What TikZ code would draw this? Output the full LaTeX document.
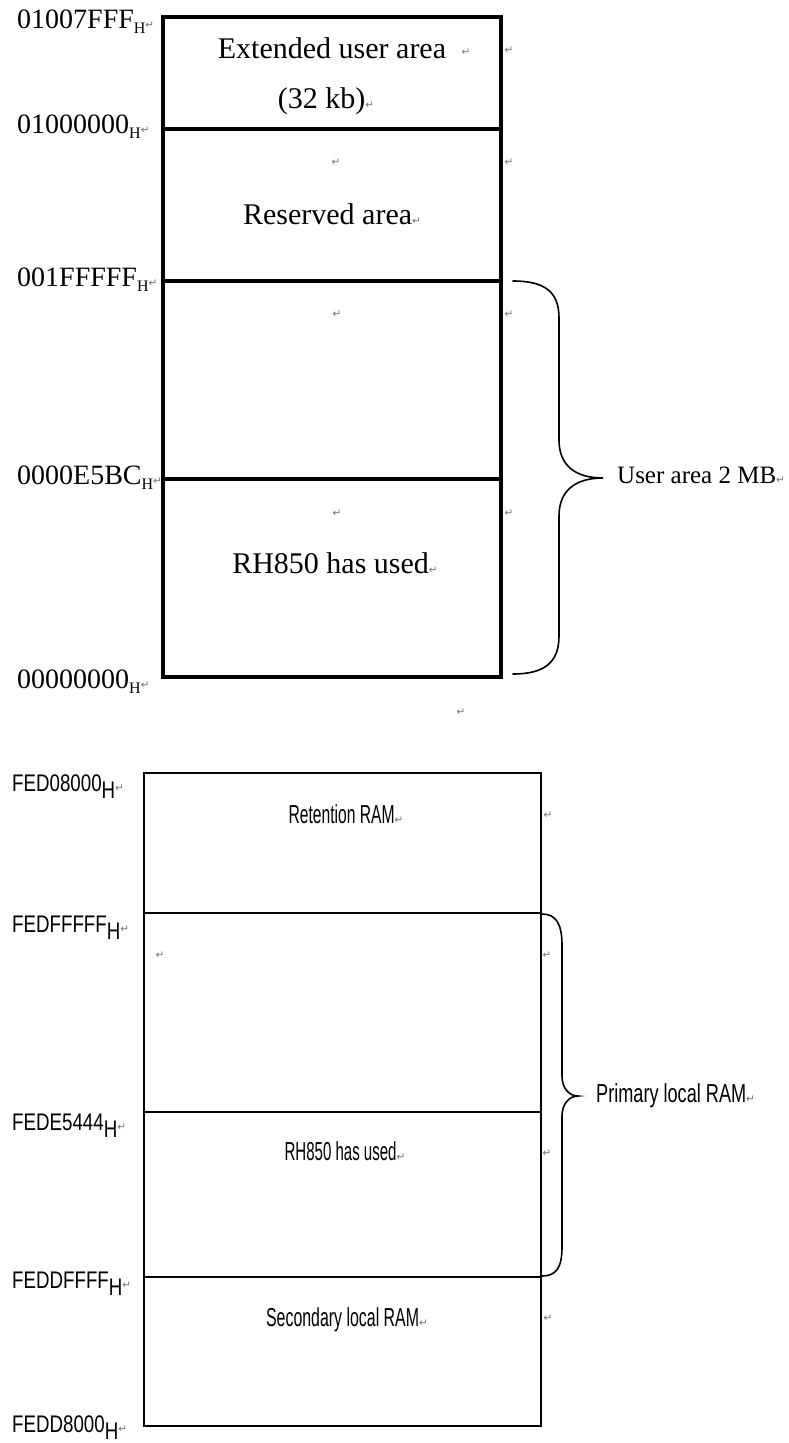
\documentclass[tikz,border=0pt]{standalone}
\usepackage{fontspec}
\usepackage{graphicx}
\setmainfont{Liberation Serif}
\newfontfamily\arial{Liberation Sans}
\newfontfamily\dv{DejaVu Sans}
\newcommand\pmark{{\dv\fontsize{10.5}{10.5}\selectfont\color{black!55}↵}}
\newcommand\tlab[1]{\fontsize{28}{28}\selectfont #1\raisebox{-5pt}{\fontsize{16}{16}\selectfont H}\pmark}
\newcommand\slab[1]{\scalebox{0.78}[1]{\arial\fontsize{24}{24}\selectfont #1\raisebox{-7pt}{H}}\pmark}
\newcommand\ttext[1]{\fontsize{30}{30}\selectfont #1}
\newcommand\stext[2]{\resizebox{#1pt}{\height}{\arial\fontsize{26}{26}\selectfont #2}}
\tikzset{
  lab/.style={anchor=base west, inner sep=0pt},
  txt/.style={anchor=base, inner sep=0pt},
  pm/.style={inner sep=0pt, font=\dv\fontsize{10.5}{10.5}\selectfont, text=black!55},
  topbox/.style={line width=3.5pt},
  botbox/.style={line width=2.4pt},
  brace/.style={line width=1.6pt, line cap=round}
}
\begin{document}
\begin{tikzpicture}[x=1pt,y=-1pt]
\useasboundingbox (0,0) rectangle (789,1443);
% ---------- top map ----------
\coordinate (t0l) at (163,17);  \coordinate (t0r) at (501,17);
\coordinate (t1l) at (163,129); \coordinate (t1r) at (501,129);
\coordinate (t2l) at (163,281); \coordinate (t2r) at (501,281);
\coordinate (t3l) at (163,479); \coordinate (t3r) at (501,479);
\coordinate (t4l) at (163,677); \coordinate (t4r) at (501,677);
\draw[topbox] (t0l) rectangle (t4r);
\draw[topbox] (t1l) -- (t1r);
\draw[topbox] (t2l) -- (t2r);
\draw[topbox] (t3l) -- (t3r);

\node[lab] (la1) at (17,28)  {\tlab{01007FFF}};
\node[lab] (la2) at (17,133) {\tlab{01000000}};
\node[lab] (la3) at (17,286) {\tlab{001FFFFF}};
\node[lab] (la4) at (17,484) {\tlab{0000E5BC}};
\node[lab] (la5) at (17,688) {\tlab{00000000}};

\node[txt] (ext) at (332,58)  {\ttext{Extended user area}};
\node[pm] (pe1) at (466,52) {↵};
\node[pm] (pe2) at (509,50) {↵};
\node[txt] (kb) at (326,108) {\ttext{(32 kb)}\pmark};
\node[pm] (pr1) at (336,162) {↵};
\node[pm] (pr2) at (509,162) {↵};
\node[txt] (res) at (332,224) {\ttext{Reserved area}\pmark};
\node[pm] (pu1) at (337,314) {↵};
\node[pm] (pu2) at (509,314) {↵};
\node[pm] (ph1) at (337,513) {↵};
\node[pm] (ph2) at (509,513) {↵};
\node[txt] (rh) at (335,573) {\ttext{RH850 has used}\pmark};
\node[pm] (pend) at (461,712) {↵};

\coordinate (bt1) at (513,281);
\coordinate (bt2) at (603,478);
\coordinate (bt3) at (513,674);
\draw[brace] (bt1) .. controls (545,281) and (559,292) .. (559,318) -- (559,440)
  .. controls (559,466) and (576,478) .. (bt2)
  .. controls (576,478) and (559,490) .. (559,516) -- (559,636)
  .. controls (559,662) and (545,674) .. (bt3);
\node[lab] (ua) at (617,483) {\fontsize{25}{25}\selectfont User area 2 MB\pmark};

% ---------- bottom map ----------
\coordinate (b0l) at (144,773);  \coordinate (b0r) at (541,773);
\coordinate (b1l) at (144,913);  \coordinate (b1r) at (541,913);
\coordinate (b2l) at (144,1112); \coordinate (b2r) at (541,1112);
\coordinate (b3l) at (144,1277); \coordinate (b3r) at (541,1277);
\coordinate (b4l) at (144,1426); \coordinate (b4r) at (541,1426);
\draw[botbox] (b0l) rectangle (b4r);
\draw[botbox] (b1l) -- (b1r);
\draw[botbox] (b2l) -- (b2r);
\draw[botbox] (b3l) -- (b3r);

\node[lab] (lb1) at (12,791)  {\slab{FED08000}};
\node[lab] (lb2) at (12,932)  {\slab{FEDFFFFF}};
\node[lab] (lb3) at (12,1130) {\slab{FEDE5444}};
\node[lab] (lb4) at (12,1288) {\slab{FEDDFFFF}};
\node[lab] (lb5) at (12,1432) {\slab{FEDD8000}};

\node[txt] (ret) at (346,823) {\stext{106}{Retention RAM}\pmark};
\node[pm] (pb1) at (548,815) {↵};
\node[pm] (pb2) at (160,955) {↵};
\node[pm] (pb3) at (547,955) {↵};
\node[txt] (rhb) at (345,1160) {\stext{112}{RH850 has used}\pmark};
\node[pm] (pb4) at (547,1153) {↵};
\node[txt] (sec) at (347,1326) {\stext{153}{Secondary local RAM}\pmark};
\node[pm] (pb5) at (548,1318) {↵};

\coordinate (bb1) at (542,914);
\coordinate (bb2) at (578,1096);
\coordinate (bb3) at (542,1276);
\draw[brace] (bb1) .. controls (556,914) and (562,924) .. (562,945) -- (562,1076)
  .. controls (562,1088) and (569,1096) .. (bb2)
  .. controls (569,1096) and (562,1104) .. (562,1116) -- (562,1247)
  .. controls (562,1268) and (556,1276) .. (bb3);
\node[lab] (pl) at (596,1102) {\stext{150}{Primary local RAM}\pmark};
\end{tikzpicture}
\end{document}
